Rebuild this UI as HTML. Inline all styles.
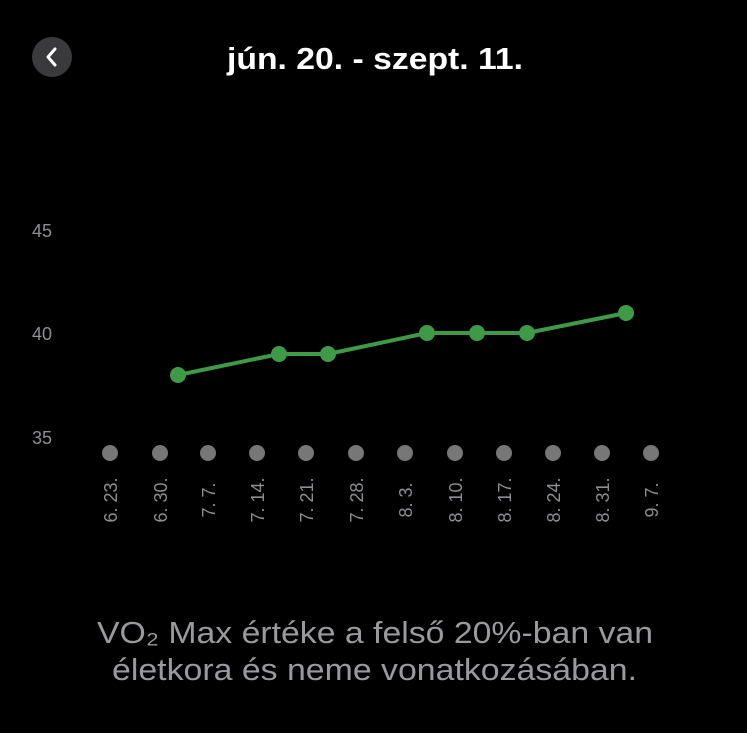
<!DOCTYPE html>
<html><head><meta charset="utf-8"><style>
body{margin:0;background:#000;width:747px;height:733px;overflow:hidden;font-family:"Liberation Sans",sans-serif}
</style></head><body>
<svg width="747" height="733" xmlns="http://www.w3.org/2000/svg" style="position:absolute;left:0;top:0">
<circle cx="52" cy="57" r="20" fill="#3a3a3c"/>
<path d="M55 49 L48 57 L55 65" stroke="#fff" stroke-width="3" fill="none" stroke-linecap="round" stroke-linejoin="round"/>
<text x="227" y="69" fill="#fff" font-size="31" font-weight="bold" textLength="296" lengthAdjust="spacingAndGlyphs">jún. 20. - szept. 11.</text>
<g fill="#8e8e93" font-size="18">
<text x="32" y="237">45</text><text x="32" y="340">40</text><text x="32" y="444">35</text>
</g>
<g fill="#777">
<circle cx="110" cy="453" r="8"/><circle cx="160" cy="453" r="8"/><circle cx="208" cy="453" r="8"/><circle cx="257" cy="453" r="8"/><circle cx="306" cy="453" r="8"/><circle cx="356" cy="453" r="8"/><circle cx="405" cy="453" r="8"/><circle cx="455" cy="453" r="8"/><circle cx="504" cy="453" r="8"/><circle cx="553" cy="453" r="8"/><circle cx="602" cy="453" r="8"/><circle cx="651" cy="453" r="8"/>
</g>
<g fill="#8e8e93" font-size="18" text-anchor="middle">
<text transform="translate(117,500) rotate(-90)">6. 23.</text>
<text transform="translate(167,500) rotate(-90)">6. 30.</text>
<text transform="translate(215,500) rotate(-90)">7. 7.</text>
<text transform="translate(264,500) rotate(-90)">7. 14.</text>
<text transform="translate(313,500) rotate(-90)">7. 21.</text>
<text transform="translate(363,500) rotate(-90)">7. 28.</text>
<text transform="translate(412,500) rotate(-90)">8. 3.</text>
<text transform="translate(462,500) rotate(-90)">8. 10.</text>
<text transform="translate(511,500) rotate(-90)">8. 17.</text>
<text transform="translate(560,500) rotate(-90)">8. 24.</text>
<text transform="translate(609,500) rotate(-90)">8. 31.</text>
<text transform="translate(658,500) rotate(-90)">9. 7.</text>
</g>
<polyline points="178,375 279,354 328,354 427,333 477,333 527,333 626,313" fill="none" stroke="#3f9a48" stroke-width="4"/>
<g fill="#3f9a48">
<circle cx="178" cy="375" r="8"/><circle cx="279" cy="354" r="8"/><circle cx="328" cy="354" r="8"/><circle cx="427" cy="333" r="8"/><circle cx="477" cy="333" r="8"/><circle cx="527" cy="333" r="8"/><circle cx="626" cy="313" r="8"/>
</g>
<g fill="#9a9a9e" font-size="31">
<text x="97" y="643" textLength="556" lengthAdjust="spacingAndGlyphs">VO₂ Max értéke a felső 20%-ban van</text>
<text x="112" y="680" textLength="525" lengthAdjust="spacingAndGlyphs">életkora és neme vonatkozásában.</text>
</g>
</svg>
</body></html>
